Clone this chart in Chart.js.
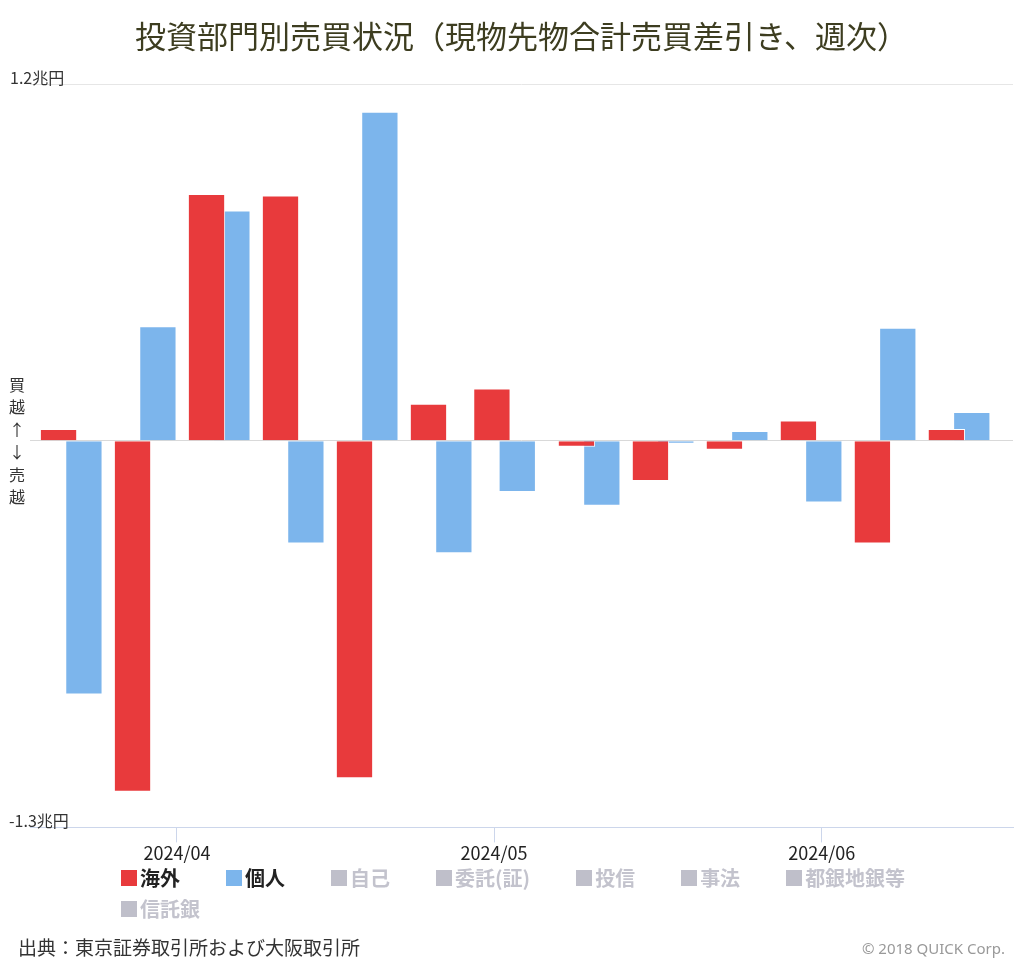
<!DOCTYPE html>
<html lang="ja">
<head>
<meta charset="utf-8">
<title>投資部門別売買状況</title>
<script src="https://cdn.jsdelivr.net/npm/chart.js@4/dist/chart.umd.min.js"></script>
<style>
  html, body { margin: 0; padding: 0; background: #fff; }
  body { font-family: 'Noto Sans CJK JP', 'Noto Sans', sans-serif; }
  .wrap { position: relative; width: 1024px; height: 964px; }
  #chart { position: absolute; left: 0; top: 0; }
  .legend {
    position: absolute; left: 121px; top: 866px; width: 800px;
    display: flex; flex-wrap: wrap; column-gap: 46px; row-gap: 8px;
    font-weight: bold; font-size: 20px; line-height: 23px;
  }
  .legend span.item { display: flex; align-items: center; color: #222; }
  .legend span.item i { display: inline-block; width: 16px; height: 16px; margin-right: 3px; }
  .legend span.off { color: #c3c3cd; }
  .source { position: absolute; left: 18px; top: 933px; font-size: 19px; color: #333; }
  .credit { position: absolute; right: 19px; top: 938px; font-size: 15px; color: #999; font-family: 'Noto Sans', sans-serif; }
</style>
</head>
<body>
<div class="wrap">
  <canvas id="chart" width="1024" height="964"></canvas>
  <div class="legend" id="legend"></div>
  <div class="source">出典：東京証券取引所および大阪取引所</div>
  <div class="credit">© 2018 QUICK Corp.</div>
</div>
<script>
'use strict';

/* ========================================================
   Data (兆円, weekly net buy/sell)
   ======================================================== */
const weeks = ['2024/03/22', '2024/03/29', '2024/04/05', '2024/04/12', '2024/04/19', '2024/04/26',
               '2024/05/02', '2024/05/10', '2024/05/17', '2024/05/24', '2024/05/31', '2024/06/07', '2024/06/14'];
const kaigai = [0.04, -1.18, 0.83, 0.825, -1.135, 0.125, 0.176, -0.02, -0.135, -0.03, 0.068, -0.345, 0.04];
const kojin  = [-0.853, 0.385, 0.775, -0.345, 1.107, -0.378, -0.172, -0.218, -0.01, 0.033, -0.207, 0.38, 0.097];
const monthTicks  = ['2024/04/01', '2024/05/01', '2024/06/01'];
const monthLabels = ['2024/04', '2024/05', '2024/06'];
const yMax = 1.2, yMin = -1.3;
const yTickLabels = ['1.2兆円', '-1.3兆円'];
const seriesNames = ['海外', '個人', '自己', '委託(証)', '投信', '事法', '都銀地銀等', '信託銀'];

const RED = '#e83a3c';
const BLUE = '#7cb5ec';
const FONT = "'Noto Sans CJK JP', 'Noto Sans', sans-serif";

const dayNum = s => {
  const [y, m, d] = s.split('/').map(Number);
  return (Date.UTC(y, m - 1, d) - Date.UTC(2024, 3, 1)) / 864e5;
};
const weekDays = weeks.map(dayNum);

/* ========================================================
   Legend (HTML, only 海外 / 個人 are shown in the chart)
   ======================================================== */
(function buildLegend() {
  const box = document.getElementById('legend');
  const colors = [RED, BLUE];
  seriesNames.forEach((name, i) => {
    const item = document.createElement('span');
    item.className = 'item' + (i < 2 ? '' : ' off');
    item.innerHTML = `<i style="background:${colors[i] || '#bfbfca'}"></i>${name}`;
    box.appendChild(item);
  });
})();

/* ========================================================
   Plugin — y labels and 買越/売越 marker
   ======================================================== */
const sideLabels = {
  id: 'sideLabels',
  afterDraw(chart) {
    const { ctx, scales: { y } } = chart;
    ctx.save();
    ctx.fillStyle = '#333';
    ctx.font = `16px ${FONT}`;
    ctx.textAlign = 'left';
    ctx.textBaseline = 'alphabetic';
    ctx.fillText(yTickLabels[0], 10, y.getPixelForValue(yMax));
    ctx.fillText(yTickLabels[1], 9, y.getPixelForValue(yMin));

    const chars = ['買', '越', '↑', '↓', '売', '越'];
    const zero = y.getPixelForValue(0);
    ctx.textAlign = 'center';
    ctx.textBaseline = 'middle';
    chars.forEach((c, i) => ctx.fillText(c, 17, zero + (i - 2.5) * 22.4));
    ctx.restore();
  }
};

/* ========================================================
   Chart
   ======================================================== */
new Chart(document.getElementById('chart'), {
  type: 'bar',
  data: {
    datasets: [
      {
        label: seriesNames[0],
        data: weekDays.map((d, i) => ({ x: d, y: kaigai[i] })),
        backgroundColor: RED,
        borderColor: '#fff',
        borderWidth: 1,
      },
      {
        label: seriesNames[1],
        data: weekDays.map((d, i) => ({ x: d, y: kojin[i] })),
        backgroundColor: BLUE,
        borderColor: '#fff',
        borderWidth: 1,
      }
    ]
  },
  options: {
    responsive: false,
    animation: false,
    categoryPercentage: 0.8,
    barPercentage: 1.47,
    layout: { padding: { left: 30, right: 11, top: 0, bottom: 100 } },
    plugins: {
      legend: { display: false },
      tooltip: { enabled: false },
      title: {
        display: true,
        text: '投資部門別売買状況（現物先物合計売買差引き、週次）',
        color: '#3d3d20',
        font: { family: FONT, size: 31, weight: 'normal', lineHeight: 1.2 },
        padding: { top: 18, bottom: 28.8 }
      }
    },
    scales: {
      x: {
        type: 'linear',
        offset: false,
        min: weekDays[0] - 3.9,
        max: weekDays[weekDays.length - 1] + 5.1,
        afterBuildTicks: scale => { scale.ticks = monthTicks.map(m => ({ value: dayNum(m) })); },
        ticks: {
          autoSkip: false,
          maxRotation: 0,
          padding: 0,
          color: '#222',
          font: { family: FONT, size: 18 },
          callback: (v, i) => monthLabels[i]
        },
        grid: { offset: false, drawOnChartArea: false, color: '#ccd6eb', tickLength: 15 },
        border: { color: '#ccd6eb' }
      },
      y: {
        min: yMin,
        max: yMax,
        afterBuildTicks: scale => { scale.ticks = [{ value: yMin }, { value: 0 }, { value: yMax }]; },
        ticks: { display: false },
        border: { display: false },
        grid: {
          drawTicks: false,
          color: c => c.tick.value === 0 ? '#d9d9d9' : (c.tick.value === yMax ? '#e6e6e6' : 'rgba(0,0,0,0)')
        }
      }
    }
  },
  plugins: [sideLabels]
});
</script>
</body>
</html>
